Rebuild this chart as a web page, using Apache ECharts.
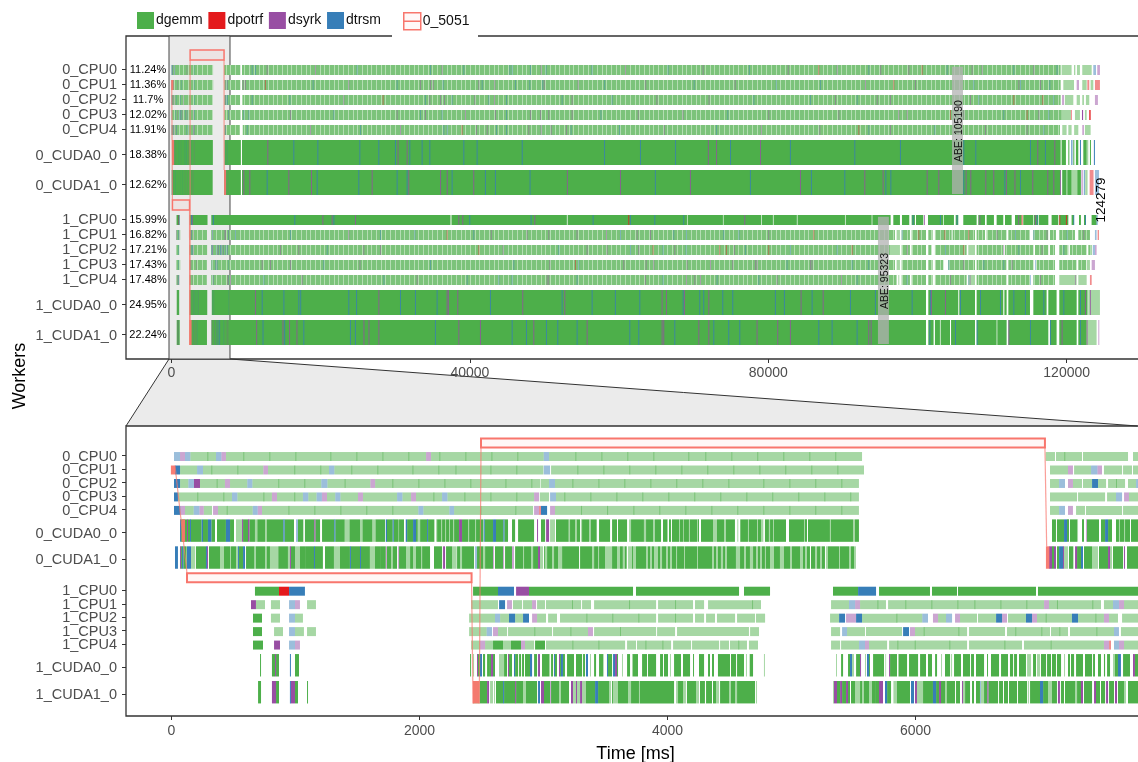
<!DOCTYPE html>
<html><head><meta charset="utf-8"><style>html,body{margin:0;padding:0;background:#fff}#c{width:1138px;height:762px}</style>
<script src="https://cdn.jsdelivr.net/npm/echarts@6/dist/echarts.min.js"></script></head><body><div id="c"></div>
<script>
// kinds: 0 dgemm, 1 dpotrf, 2 dsyrk, 3 dtrsm; +4 = single (pale) task; 8 = packed run of dgemm tasks
const kindNames=['dgemm','dpotrf','dsyrk','dtrsm'];
const rowLabels=['0_CPU0','0_CPU1','0_CPU2','0_CPU3','0_CPU4','0_CUDA0_0','0_CUDA1_0','1_CPU0','1_CPU1','1_CPU2','1_CPU3','1_CPU4','1_CUDA0_0','1_CUDA1_0'];
const rowCenters=[0,3,6,9,12,16.5,22.5,30,33,36,39,42,46.5,52.5];
const rowTicks=[-0.2,2.8,5.8,8.8,11.8,16.9,22.9,29.8,32.8,35.8,38.8,41.8,46.9,52.9];
const rowLabelAt=[-6.5,0.05,3.05,6.05,9.05,12.05,17.15,23.15,30.05,33.05,36.05,39.05,42.05,47.15,53.15];
const rowHeights=[2,2,2,2,2,5,5,2,2,2,2,2,5,5];
const rowPercents=['11.24%','11.36%','11.7%','12.02%','11.91%','18.38%','12.62%','15.99%','16.82%','17.21%','17.43%','17.48%','24.95%','22.24%'];
const overviewTicks=[0,40000,80000,120000];
const detailTicks=[0,2000,4000,6000];

// detail tasks [start ms, end ms, kind]
const det_0_CPU0=[[20,69,7],[69,109,6],[109,152,7],[152,289,4],[289,359,4],[359,402,7],[402,439,6],[439,579,4],[579,789,4],[789,999,4],[999,1281,4],[1281,1491,4],[1491,1701,4],[1701,1910,4],[1910,2053,4],[2053,2093,6],[2093,2160,4],[2160,2370,4],[2370,2580,4],[2580,2789,4],[2789,3002,4],[3002,3045,7],[3045,3257,4],[3257,3467,4],[3467,3676,4],[3676,3886,4],[3886,4168,4],[4168,4305,4],[4305,4515,4],[4515,4724,4],[4724,4934,4],[4934,5144,4],[5144,5353,4],[5353,5569,4],[7050,7125,4],[7133,7200,4],[7200,7343,4],[7351,7714,4],[7754,7795,4]];
const det_0_CPU1=[[28,69,3],[69,206,4],[206,254,7],[254,321,4],[321,531,4],[531,741,4],[741,778,6],[778,990,4],[990,1200,4],[1200,1270,4],[1270,1313,7],[1313,1450,4],[1450,1660,4],[1660,1943,4],[1943,2152,4],[2152,2290,4],[2290,2572,4],[2572,2781,4],[2781,2999,4],[3002,3053,7],[3061,3273,4],[3273,3483,4],[3483,3692,4],[3692,3902,4],[3902,4112,4],[4112,4321,4],[4321,4531,4],[4531,4741,4],[4741,4950,4],[4950,5160,4],[5160,5370,4],[5370,5585,4],[7085,7230,4],[7230,7270,6],[7279,7416,4],[7416,7467,7],[7467,7504,6],[7520,7666,4],[7674,7746,4],[7754,7795,4]];
const det_0_CPU2=[[20,69,3],[69,136,4],[136,181,7],[181,230,2],[230,364,4],[364,431,4],[431,472,6],[472,611,4],[611,652,7],[652,861,4],[861,1071,4],[1071,1208,4],[1208,1257,7],[1257,1396,4],[1396,1604,4],[1604,1642,6],[1642,1781,4],[1781,1991,4],[1991,2201,4],[2201,2410,4],[2410,2693,4],[2693,2902,4],[2902,2975,4],[2980,3045,4],[3045,3093,7],[3093,3233,4],[3233,3443,4],[3443,3652,4],[3652,3862,4],[3862,4071,4],[4071,4281,4],[4281,4491,4],[4491,4773,4],[4773,4983,4],[4983,5192,4],[5192,5402,4],[5402,5544,4],[7085,7158,4],[7158,7206,7],[7230,7270,6],[7270,7343,4],[7351,7424,4],[7424,7472,3],[7472,7537,4],[7553,7617,4],[7617,7690,4],[7714,7779,4],[7779,7795,7]];
const det_0_CPU3=[[20,52,3],[52,208,4],[208,418,4],[418,488,4],[488,531,7],[531,741,4],[741,810,4],[810,851,6],[851,990,4],[990,1060,4],[1060,1103,7],[1103,1170,4],[1170,1213,7],[1213,1254,6],[1254,1321,4],[1321,1362,7],[1362,1504,4],[1504,1544,6],[1544,1819,4],[1819,1862,7],[1862,1932,4],[1932,1972,6],[1972,2112,4],[2112,2182,4],[2182,2225,7],[2225,2362,4],[2362,2572,4],[2572,2781,4],[2781,2924,4],[2924,2964,6],[2970,3045,4],[3053,3101,7],[3101,3168,4],[3168,3378,4],[3378,3588,4],[3588,3797,4],[3797,4007,4],[4007,4216,4],[4216,4426,4],[4426,4636,4],[4636,4845,4],[4845,5055,4],[5055,5265,4],[5265,5474,4],[5474,5544,4],[7085,7303,4],[7311,7529,4],[7545,7617,4],[7617,7666,7],[7682,7722,6],[7722,7795,4]];
const det_0_CPU4=[[20,71,3],[71,109,6],[109,179,4],[179,225,7],[225,260,6],[260,327,4],[335,375,6],[375,445,4],[445,655,4],[655,695,7],[695,730,6],[730,943,4],[943,1152,4],[1152,1362,4],[1362,1571,4],[1571,1781,4],[1781,1991,4],[1991,2031,7],[2031,2241,4],[2241,2279,7],[2279,2491,4],[2491,2773,4],[2773,2916,4],[2924,2964,6],[2964,2980,5],[2980,3029,3],[3053,3093,6],[3093,3303,4],[3303,3513,4],[3513,3725,4],[3725,3934,4],[3934,4144,4],[4144,4354,4],[4354,4563,4],[4563,4773,4],[4773,4983,4],[4983,5192,4],[5192,5402,4],[5402,5544,4],[7085,7158,4],[7158,7206,7],[7230,7270,6],[7295,7367,4],[7375,7666,4],[7674,7795,4]];
const det_0_CUDA0=[[69,77,3],[77,125,0],[125,133,2],[133,149,0],[149,157,3],[157,243,0],[243,254,3],[254,294,0],[294,321,3],[321,351,0],[367,439,0],[439,472,3],[472,504,0],[520,569,4],[569,577,2],[577,617,0],[617,628,2],[628,673,0],[673,692,4],[692,754,0],[754,768,4],[768,902,0],[902,912,3],[912,988,0],[1004,1020,7],[1020,1063,0],[1076,1152,0],[1152,1160,2],[1160,1198,0],[1214,1313,0],[1313,1321,3],[1321,1397,0],[1397,1435,4],[1435,1520,0],[1520,1540,4],[1540,1620,0],[1620,1645,4],[1645,1722,0],[1728,1738,3],[1738,1784,0],[1784,1792,3],[1792,1832,0],[1835,1875,0],[1889,1900,3],[1900,1948,0],[1948,1972,3],[1972,1986,0],[1986,2005,4],[2005,2061,0],[2061,2069,3],[2069,2120,0],[2134,2142,4],[2142,2174,0],[2174,2182,4],[2182,2206,0],[2206,2214,4],[2214,2238,0],[2238,2246,4],[2246,2271,0],[2271,2279,4],[2279,2319,0],[2319,2343,2],[2343,2392,0],[2392,2400,4],[2400,2448,0],[2448,2456,4],[2456,2515,0],[2518,2526,3],[2526,2593,0],[2593,2617,3],[2617,2677,0],[2677,2685,3],[2685,2714,0],[2746,2771,0],[2795,2924,0],[2948,2956,2],[2980,3013,0],[3021,3045,2],[3053,3093,4],[3101,3203,0],[3203,3214,4],[3214,3255,0],[3255,3268,4],[3268,3295,0],[3303,3311,4],[3311,3367,0],[3367,3381,4],[3381,3429,0],[3448,3537,0],[3553,3593,0],[3601,3674,0],[3690,3706,4],[3706,3810,0],[3810,3827,4],[3827,3883,0],[3883,3899,4],[3899,3948,0],[3964,3996,0],[3996,4004,4],[4012,4028,0],[4036,4093,0],[4093,4101,4],[4101,4128,0],[4128,4133,4],[4133,4173,0],[4173,4181,4],[4181,4238,0],[4238,4246,4],[4246,4254,0],[4270,4367,0],[4367,4399,4],[4399,4456,0],[4456,4472,4],[4472,4544,0],[4563,4571,4],[4587,4649,0],[4649,4657,4],[4657,4722,0],[4722,4730,4],[4730,4754,0],[4754,4773,4],[4786,4818,0],[4818,4827,4],[4827,4851,0],[4851,4859,4],[4859,4956,0],[4980,5101,0],[5101,5109,4],[5109,5125,0],[5133,5310,0],[5310,5318,4],[5318,5496,0],[5496,5512,4],[5512,5544,0],[7101,7133,0],[7141,7198,0],[7198,7222,3],[7222,7238,0],[7246,7303,0],[7303,7311,4],[7343,7359,0],[7375,7383,6],[7383,7480,0],[7496,7529,0],[7529,7553,3],[7553,7585,0],[7617,7641,0],[7641,7649,4],[7649,7682,0],[7682,7690,4],[7690,7730,0],[7738,7795,0]];
const det_0_CUDA1=[[28,52,3],[69,77,2],[77,85,0],[85,95,3],[95,122,0],[125,157,3],[157,190,4],[197,278,0],[278,286,3],[286,294,2],[302,391,0],[391,423,4],[423,472,0],[472,480,4],[480,520,0],[520,536,4],[536,544,3],[544,577,0],[577,593,3],[601,668,0],[668,681,4],[681,754,0],[754,767,4],[767,794,0],[794,861,4],[861,939,0],[939,955,4],[955,963,2],[963,996,0],[996,1036,4],[1036,1084,0],[1084,1149,0],[1149,1157,3],[1157,1221,0],[1238,1310,0],[1310,1359,4],[1359,1439,0],[1439,1447,3],[1447,1520,0],[1520,1528,3],[1528,1600,0],[1600,1641,4],[1641,1682,0],[1682,1728,0],[1728,1738,6],[1738,1771,0],[1771,1784,4],[1784,1819,0],[1827,1835,6],[1835,1892,0],[1892,1924,4],[1924,1948,0],[1948,1972,4],[1972,2013,0],[2013,2021,4],[2021,2085,0],[2117,2182,0],[2190,2206,2],[2214,2263,0],[2263,2300,4],[2303,2327,0],[2327,2343,4],[2343,2440,0],[2448,2464,7],[2464,2513,0],[2513,2529,4],[2529,2593,0],[2593,2601,6],[2609,2674,0],[2674,2682,6],[2690,2746,0],[2746,2762,6],[2771,2835,0],[2835,2843,4],[2843,2900,0],[2900,2916,4],[2916,2956,0],[2956,2972,2],[2972,2996,4],[3005,3013,0],[3013,3029,4],[3029,3069,0],[3069,3085,4],[3085,3117,0],[3117,3150,4],[3150,3287,0],[3295,3391,0],[3391,3408,4],[3408,3440,0],[3440,3448,4],[3448,3496,0],[3496,3553,4],[3553,3593,0],[3593,3617,4],[3617,3640,0],[3640,3655,4],[3655,3671,0],[3682,3714,4],[3714,3722,0],[3722,3746,4],[3746,3827,0],[3827,3843,4],[3843,3859,0],[3859,3875,4],[3875,3891,0],[3891,3923,4],[3923,3940,0],[3940,3956,4],[3956,3988,0],[3988,4004,4],[4004,4020,0],[4020,4036,4],[4036,4069,0],[4069,4077,4],[4077,4133,0],[4133,4141,4],[4141,4238,0],[4238,4246,4],[4246,4359,0],[4359,4375,4],[4375,4391,0],[4391,4407,4],[4407,4431,0],[4431,4448,4],[4448,4464,0],[4464,4480,4],[4480,4552,0],[4552,4585,4],[4585,4617,0],[4617,4633,4],[4633,4665,0],[4665,4690,4],[4690,4714,0],[4714,4730,4],[4730,4746,0],[4746,4762,4],[4762,4786,0],[4786,4794,4],[4794,4827,0],[4827,4859,4],[4859,4907,0],[4907,4939,4],[4939,4988,0],[4988,5004,4],[5004,5069,0],[5069,5093,4],[5093,5109,0],[5109,5125,4],[5125,5149,0],[5157,5190,0],[5190,5206,4],[5206,5230,0],[5230,5246,4],[5246,5270,0],[5278,5294,4],[5294,5383,0],[5383,5391,4],[5391,5464,0],[5464,5480,4],[5480,5504,0],[5504,5520,4],[7077,7101,2],[7101,7117,0],[7117,7133,2],[7141,7158,0],[7158,7190,3],[7190,7198,2],[7198,7230,4],[7238,7273,0],[7287,7303,2],[7303,7335,0],[7335,7351,3],[7359,7424,0],[7424,7472,4],[7480,7553,0],[7553,7569,2],[7569,7585,4],[7593,7674,0],[7682,7690,2],[7706,7795,0]];
const det_1_CPU0=[[673,867,0],[867,948,1],[948,1076,3],[2432,2633,0],[2633,2762,3],[2779,2883,2],[2883,3722,0],[3746,4577,0],[4617,4827,0],[5335,5537,0],[5537,5682,3],[5706,6117,0],[6133,6335,0],[6343,6972,0],[6988,7795,0]];
const det_1_CPU1=[[641,681,2],[681,754,4],[802,875,4],[948,996,7],[996,1036,6],[1093,1165,4],[2416,2633,4],[2642,2690,3],[2706,2746,6],[2754,2827,4],[2835,2908,4],[2908,2940,6],[2948,3012,4],[3020,3230,4],[3230,3303,4],[3311,3383,4],[3408,3690,4],[3690,3908,4],[3924,4061,4],[4061,4206,4],[4222,4295,4],[4327,4682,4],[4682,4754,4],[5319,5464,4],[5464,5513,7],[5513,5553,6],[5553,5693,4],[5693,5762,4],[5779,5918,4],[5918,6128,4],[6128,6338,4],[6338,6475,4],[6475,6685,4],[6685,6894,4],[6894,7037,4],[7037,7077,6],[7077,7141,4],[7141,7426,4],[7426,7496,4],[7520,7593,4],[7593,7641,7],[7641,7682,6],[7682,7795,4]];
const det_1_CPU2=[[657,730,0],[802,875,4],[948,996,7],[996,1060,4],[2400,2609,4],[2609,2650,7],[2650,2722,4],[2722,2771,3],[2771,2835,4],[2835,2883,3],[2908,2948,6],[2948,3020,4],[3037,3109,4],[3133,3346,4],[3346,3555,4],[3555,3765,4],[3765,3908,4],[3924,4061,4],[4061,4206,4],[4222,4295,4],[4311,4383,4],[4399,4545,4],[4561,4706,4],[4714,4787,4],[5311,5384,4],[5384,5432,3],[5440,5521,6],[5521,5569,3],[5569,5846,4],[5846,6055,4],[6055,6101,7],[6141,6182,6],[6182,6246,4],[6246,6295,7],[6319,6359,6],[6359,6496,4],[6504,6650,4],[6650,6698,3],[6698,6738,6],[6746,6891,4],[6891,6940,3],[6940,6980,6],[6980,7050,4],[7050,7262,4],[7262,7311,3],[7311,7451,4],[7451,7520,4],[7520,7561,6],[7561,7633,4],[7666,7795,4]];
const det_1_CPU3=[[657,730,0],[827,899,4],[948,996,7],[996,1068,4],[1093,1165,4],[2400,2542,4],[2542,2585,7],[2593,2633,6],[2633,2706,4],[2714,2926,4],[2926,3069,4],[3077,3217,4],[3217,3359,4],[3359,3399,6],[3408,3617,4],[3617,3908,4],[3916,4061,4],[4077,4657,4],[4666,4738,4],[5319,5392,4],[5408,5448,7],[5448,5593,4],[5601,5892,4],[5900,5948,3],[5956,5996,6],[5996,6066,4],[6066,6346,4],[6346,6416,4],[6432,6722,4],[6738,6805,4],[6805,7015,4],[7015,7085,4],[7093,7160,4],[7160,7230,4],[7246,7459,4],[7459,7601,4],[7601,7641,7],[7657,7795,4]];
const det_1_CPU4=[[657,738,0],[827,875,2],[948,996,7],[996,1036,6],[2416,2488,4],[2488,2529,6],[2529,2593,4],[2593,2674,0],[2674,2738,4],[2738,2819,0],[2819,2851,6],[2851,2924,4],[2932,3012,0],[3020,3233,4],[3233,3443,4],[3443,3658,4],[3674,3746,4],[3754,3822,4],[3822,3959,4],[3959,4029,4],[4045,4190,4],[4198,4416,4],[4424,4496,4],[4504,4571,4],[4571,4641,4],[4657,4730,4],[5319,5392,4],[5400,5545,4],[5545,5593,7],[5593,5625,6],[5625,5771,4],[5787,5854,4],[5854,5994,4],[5994,6273,4],[6273,6416,4],[6432,6717,4],[6717,6859,4],[6875,7090,4],[7090,7520,4],[7520,7561,6],[7561,7577,5],[7601,7641,7],[7641,7682,6],[7682,7795,4]];
const det_1_CUDA0=[[714,722,0],[810,835,0],[835,843,2],[843,867,0],[955,963,3],[996,1028,0],[2408,2416,0],[2432,2440,4],[2464,2472,2],[2472,2488,0],[2488,2504,3],[2512,2529,0],[2545,2561,0],[2561,2577,0],[2577,2593,2],[2593,2609,0],[2641,2682,4],[2682,2706,0],[2714,2722,2],[2722,2746,0],[2762,2771,3],[2771,2795,0],[2803,2819,0],[2827,2843,0],[2851,2891,0],[2891,2908,3],[2924,2948,0],[2956,2972,2],[2988,3045,0],[3045,3053,4],[3061,3077,0],[3085,3093,3],[3093,3109,0],[3125,3133,2],[3133,3141,0],[3141,3157,3],[3157,3173,0],[3190,3246,0],[3262,3311,0],[3319,3335,0],[3343,3359,3],[3375,3383,4],[3408,3424,0],[3448,3483,0],[3512,3520,3],[3520,3553,0],[3561,3577,3],[3577,3593,2],[3593,3601,0],[3633,3641,4],[3674,3698,0],[3714,3722,4],[3722,3762,0],[3795,3835,0],[3843,3908,0],[3940,3964,0],[3972,4004,0],[4020,4028,4],[4053,4109,0],[4125,4182,0],[4206,4214,0],[4254,4295,0],[4327,4343,0],[4359,4375,0],[4407,4504,0],[4512,4553,0],[4561,4617,0],[4633,4641,4],[4663,4690,0],[4778,4786,4],[5359,5367,4],[5400,5416,0],[5456,5472,0],[5472,5488,3],[5488,5504,4],[5521,5553,0],[5553,5561,2],[5593,5601,4],[5609,5625,3],[5625,5633,0],[5658,5746,0],[5757,5763,4],[5787,5795,2],[5795,5851,0],[5859,5867,4],[5867,5932,0],[5948,6021,0],[6037,6085,0],[6101,6133,0],[6158,6174,0],[6206,6214,4],[6238,6279,0],[6287,6295,4],[6311,6367,0],[6383,6440,0],[6448,6472,0],[6488,6553,0],[6577,6585,0],[6609,6674,0],[6690,6746,0],[6762,6787,0],[6795,6819,0],[6835,6891,0],[6900,6932,4],[6948,6972,0],[6980,7004,4],[7012,7053,0],[7061,7093,0],[7101,7133,0],[7141,7174,0],[7198,7206,4],[7230,7246,0],[7254,7279,0],[7295,7351,0],[7367,7424,0],[7432,7448,0],[7472,7496,0],[7520,7529,0],[7545,7569,0],[7593,7609,4],[7609,7633,0],[7633,7657,3],[7674,7730,0],[7754,7770,2],[7770,7795,0]];
const det_1_CUDA1=[[698,722,0],[810,843,2],[843,867,0],[955,963,3],[963,996,2],[996,1020,0],[1093,1101,0],[2432,2488,4],[2488,2545,0],[2545,2561,2],[2569,2593,4],[2601,2609,4],[2617,2674,0],[2674,2682,3],[2682,2771,0],[2771,2779,2],[2779,2835,0],[2835,2859,4],[2859,2948,0],[2956,2972,3],[2980,3004,2],[3004,3053,0],[3053,3061,6],[3061,3125,0],[3125,3141,4],[3141,3206,0],[3222,3238,2],[3238,3262,4],[3262,3270,2],[3270,3295,4],[3295,3311,2],[3311,3343,4],[3343,3416,0],[3416,3440,3],[3440,3529,0],[3529,3545,4],[3553,3561,0],[3561,3601,4],[3601,3682,0],[3682,3706,4],[3706,3770,0],[3770,3778,4],[3778,4053,0],[4069,4085,4],[4085,4125,0],[4125,4149,4],[4157,4230,0],[4230,4254,4],[4262,4302,0],[4311,4359,0],[4367,4391,0],[4391,4416,4],[4424,4496,0],[4496,4512,4],[4512,4545,0],[4545,4561,4],[4561,4706,0],[4714,4722,4],[5335,5343,4],[5343,5367,2],[5367,5392,0],[5392,5408,2],[5408,5440,0],[5440,5456,2],[5456,5472,0],[5480,5513,0],[5513,5553,4],[5553,5569,0],[5569,5585,4],[5585,5625,0],[5625,5649,4],[5649,5674,0],[5674,5706,0],[5706,5738,2],[5754,5771,3],[5771,5803,0],[5822,5851,4],[5851,5956,0],[5964,5988,3],[5996,6012,2],[6012,6061,4],[6061,6141,0],[6141,6166,3],[6166,6190,0],[6190,6206,2],[6206,6238,0],[6238,6252,4],[6252,6319,0],[6327,6359,0],[6375,6383,2],[6383,6400,4],[6400,6440,0],[6456,6472,0],[6488,6520,0],[6520,6528,7],[6528,6553,4],[6553,6580,0],[6580,6588,2],[6588,6666,0],[6674,6706,0],[6714,6746,0],[6754,6819,0],[6827,6900,0],[6908,6916,4],[6924,7004,0],[7004,7029,3],[7029,7069,0],[7069,7101,4],[7101,7141,0],[7149,7165,2],[7173,7198,0],[7206,7287,0],[7287,7303,4],[7303,7335,0],[7335,7351,2],[7359,7424,0],[7440,7456,2],[7456,7488,0],[7496,7529,0],[7537,7553,2],[7561,7601,0],[7609,7625,2],[7633,7682,0],[7682,7698,4],[7714,7795,0]];
const detailRows=[det_0_CPU0,det_0_CPU1,det_0_CPU2,det_0_CPU3,det_0_CPU4,det_0_CUDA0,det_0_CUDA1,det_1_CPU0,det_1_CPU1,det_1_CPU2,det_1_CPU3,det_1_CPU4,det_1_CUDA0,det_1_CUDA1];

// overview runs [start ms, end ms, kind]
const run_0_CPU0=[[20,5570,8],[7050,9250,8],[9450,119190,8],[119320,120660,4],[120980,121160,4],[121380,121780,4],[122090,123350,4],[123570,123930,7],[124100,124460,6]];
const run_0_CPU1=[[0,5585,8],[7085,9250,8],[9450,119190,8],[119550,120980,4],[121340,121650,6],[122090,122680,4],[122770,123030,5],[123210,123570,4],[123790,124460,5]];
const run_0_CPU2=[[20,5544,8],[7085,9200,8],[9500,119190,8],[119380,119650,6],[119770,120890,4],[121340,121780,4],[122090,122320,4],[122580,123030,4],[123790,124190,6]];
const run_0_CPU3=[[20,5544,8],[7085,9300,8],[9450,119320,8],[119320,120570,4],[120570,120700,5],[121110,121780,4],[122050,122200,2],[122450,122680,4],[123030,123210,1]];
const run_0_CPU4=[[20,5544,8],[7085,9150,8],[9550,119100,8],[119410,119990,4],[120220,120660,4],[121000,121560,4],[122090,122320,6],[122450,123210,4]];
const run_0_CUDA0=[[69,5544,0],[7100,9300,0],[9450,119190,0],[119320,119900,0],[120220,120360,0],[120630,120750,3],[120890,121000,0],[121240,121560,0],[121780,121900,3],[122230,122680,0],[122680,122900,4],[123120,123250,0],[123650,123780,3]];
const run_0_CUDA1=[[28,5520,0],[7060,9300,0],[9450,119190,0],[119400,119990,0],[120080,120660,0],[120660,121420,4],[121420,121910,0],[122480,122800,4],[123080,123600,5],[123790,124330,7]];
const run_1_CPU0=[[673,1076,0],[2432,4827,0],[5335,37400,0],[37530,53000,0],[53100,69100,0],[69180,73920,0],[74000,79050,0],[79130,80620,0],[80710,83830,0],[83920,90280,0],[90370,93860,0],[93950,96400,0],[96760,97650,0],[97920,98900,0],[99220,99660,0],[99800,100780,0],[101410,103460,0],[103550,104890,0],[105120,105470,0],[106140,107930,0],[108150,109050,0],[109270,110250,0],[110610,111500,0],[111730,112620,0],[113070,113960,0],[114180,115530,0],[115620,116200,0],[116290,117540,0],[117980,118880,0],[119010,120220,0],[120660,120980,0],[121650,121910,0],[122320,122590,0],[123340,124010,0]];
const run_1_CPU1=[[641,1165,8],[2416,4754,8],[5319,96980,8],[97200,97650,4],[97880,98990,8],[99220,101140,8],[101450,102030,8],[102340,104580,8],[104710,107710,8],[107930,109050,8],[109270,111950,8],[112180,115080,8],[115530,117540,8],[117760,118560,8],[119010,121110,8],[121560,123120,8],[123790,124010,7],[124150,124330,5]];
const run_1_CPU2=[[657,1060,8],[2400,4787,8],[5311,96310,8],[96310,97650,4],[97880,98990,8],[99220,101140,8],[101450,101900,8],[102340,106590,8],[106810,107710,4],[107930,111500,8],[111730,115530,8],[115750,117540,8],[117760,118430,8],[119010,120220,8],[120440,122680,8],[122900,123350,8],[123500,123790,7],[123790,124010,6]];
const run_1_CPU3=[[657,1165,8],[2400,4738,8],[5319,96980,8],[97200,97650,4],[97880,101140,8],[101450,102030,8],[102340,103460,8],[104130,107710,8],[107930,111950,8],[112180,115530,8],[115970,118430,8],[119010,121340,8],[121560,122590,8],[122680,123120,4],[123350,123790,6]];
const run_1_CPU4=[[657,1036,8],[2416,4730,8],[5319,97200,8],[97430,97560,4],[97880,98990,8],[99220,101140,8],[101450,102030,8],[102340,106590,8],[106810,107710,4],[107930,111950,8],[112180,115080,8],[115530,118430,8],[119010,121340,4],[121560,122680,4],[123120,123350,5]];
const run_1_CUDA0=[[700,1030,0],[2410,4790,0],[5400,101140,0],[101450,105470,0],[105600,107710,0],[107930,111500,0],[111650,111950,0],[112180,115080,0],[115530,117310,0],[117540,118650,0],[119010,121340,0],[121560,122800,0],[122900,124460,4]];
const run_1_CUDA1=[[698,1100,0],[2430,4754,0],[5343,101140,0],[101450,102160,0],[102340,103010,0],[103100,104360,0],[104500,107710,0],[107930,110610,0],[110700,111950,0],[112180,117540,0],[117760,118650,0],[119010,121340,0],[121560,122680,0],[122680,124010,4],[124240,124330,6]];
const overviewRuns=[run_0_CPU0,run_0_CPU1,run_0_CPU2,run_0_CPU3,run_0_CPU4,run_0_CUDA0,run_0_CUDA1,run_1_CPU0,run_1_CPU1,run_1_CPU2,run_1_CPU3,run_1_CPU4,run_1_CUDA0,run_1_CUDA1];

// overview isolated tasks [time ms, kind]
const mark_0_CPU0=[[10750,3],[11190,3],[12760,2],[19240,2],[24820,3],[34650,3],[36210,2],[39120,3],[45290,3],[45600,3],[48050,3],[49480,2],[50150,3],[56300,3],[60800,2],[66500,3],[71200,2],[77400,3],[82600,2],[86700,1],[89160,2],[93410,3],[95000,2],[98770,2],[100560,1],[103910,3],[107260,2],[108600,2],[112850,3],[115530,2],[118650,3]];
const mark_0_CPU1=[[9540,2],[9850,2],[12530,1],[18920,3],[23700,2],[30180,3],[33300,2],[34650,2],[35010,2],[36350,3],[41130,2],[41580,3],[43270,2],[46040,3],[47960,3],[49700,3],[49900,2],[54440,2],[58000,3],[63500,2],[70000,3],[75500,2],[81000,3],[86930,3],[92960,2],[96760,1],[99660,2],[107480,3],[113520,2],[113740,3],[116420,2],[117670,3]];
const mark_0_CPU2=[[7390,3],[10750,3],[15800,3],[23030,2],[28300,1],[33970,3],[34560,2],[35990,2],[36530,2],[37550,3],[40590,2],[42470,3],[43230,2],[44840,3],[52300,3],[53640,2],[59000,3],[65000,2],[72000,2],[78000,3],[85590,3],[88940,2],[91850,3],[94530,2],[96310,2],[107040,2],[108150,3],[112850,1],[116730,1],[118200,3]];
const mark_0_CPU3=[[9630,3],[10300,3],[15880,2],[21700,3],[30180,2],[33310,3],[33980,2],[36210,3],[39340,2],[43360,2],[44840,3],[48050,2],[49400,2],[50510,2],[53640,2],[57500,3],[62500,2],[68500,2],[74500,3],[80000,2],[89390,2],[97430,2],[98550,2],[104360,1],[106140,2],[111500,3],[114630,1],[116200,2],[117540,3]];
const mark_0_CPU4=[[10080,3],[18570,2],[25270,3],[30630,2],[36440,3],[36900,3],[38890,1],[40820,2],[42250,2],[43500,3],[44840,3],[47830,2],[49480,2],[50830,2],[52880,2],[53500,3],[60000,3],[66000,2],[73000,3],[79000,2],[86840,2],[92070,1],[93410,3],[96310,2],[102260,3],[109050,2],[114630,2],[116870,3]];
const mark_0_CUDA0=[[12845,2],[16330,3],[19550,3],[25180,3],[27720,3],[29960,3],[30300,2],[31520,2],[31880,3],[33530,3],[34560,3],[39120,3],[40900,3],[46950,3],[57980,3],[62800,3],[67500,3],[71900,2],[73000,2],[74870,3],[78890,2],[82900,3],[91530,3],[97650,3],[106140,3],[107750,3],[115080,3],[116060,2],[117090,3],[118340,2]];
const mark_0_CUDA1=[[9630,2],[10430,2],[12760,3],[15660,2],[18700,2],[19460,3],[25040,3],[26830,2],[30180,3],[31520,3],[31740,2],[36000,2],[36890,2],[37550,3],[40450,2],[42020,3],[43360,3],[48000,3],[53000,2],[60120,2],[64800,3],[69500,2],[77540,3],[84250,2],[85720,3],[90190,3],[92870,2],[95330,2],[95690,3],[96360,3],[101230,2],[102790,2],[106140,3],[106460,2],[107080,2],[109090,2],[110160,2],[111640,3],[111860,2],[113000,2],[113740,3],[115390,2],[117400,2],[118210,2],[119100,2],[122000,2],[122300,3]];
const mark_1_CPU0=[[16460,3],[20220,2],[21470,2],[21700,3],[24600,2],[38450,2],[38980,2],[39920,3],[48140,3],[48630,2],[56450,3],[61230,1],[61450,3],[64720,3],[68600,3],[76780,2],[99350,3],[100870,2],[103010,3],[105250,3],[108290,2],[113500,2],[113960,1],[115750,2],[116000,3],[119010,1],[119900,1],[120890,3],[122450,3],[124010,3]];
const mark_1_CPU1=[[7170,2],[8510,3],[15880,3],[23700,2],[27950,3],[32550,3],[36880,1],[40450,3],[42800,2],[47600,2],[50510,2],[54300,2],[58240,2],[60120,3],[62350,2],[64140,2],[67260,3],[68960,3],[73960,3],[76000,3],[79990,2],[86040,1],[97880,3],[100110,1],[103600,1],[106810,1],[110610,2],[113070,3],[115530,3],[117310,2],[120000,3],[122230,2]];
const mark_1_CPU2=[[6500,3],[7390,3],[14540,2],[17000,2],[20810,3],[25710,2],[27950,2],[41130,1],[44390,2],[51850,3],[55650,2],[58330,2],[61460,3],[62570,2],[64490,1],[65830,3],[67400,2],[68920,3],[73430,1],[74320,1],[75400,2],[76870,3],[79990,1],[82900,3],[89170,3],[91180,1],[98550,2],[103690,3],[106140,1],[111500,2],[113520,3],[116640,2],[119550,3]];
const mark_1_CPU3=[[6050,3],[12090,2],[13200,2],[15880,2],[20350,3],[25200,2],[34650,3],[45820,3],[50640,2],[54090,1],[54530,3],[60560,2],[63560,2],[64590,2],[69050,2],[72180,2],[75170,2],[78210,2],[78430,2],[82450,3],[85800,2],[93400,3],[85590,2],[91180,3],[104130,3],[106140,2],[108820,3],[111500,3],[112620,2],[115750,3]];
const mark_1_CPU4=[[7840,2],[12320,3],[17450,2],[28410,3],[32860,2],[39570,3],[43810,3],[45590,3],[50290,2],[50500,2],[54310,3],[63470,2],[65830,3],[68960,2],[70080,2],[70840,2],[73070,3],[78660,3],[81120,2],[89740,2],[91840,3],[98550,3],[104360,2],[106810,3],[107000,2],[115080,3],[116420,2],[121110,2]];
const mark_1_CUDA0=[[11200,2],[12090,3],[15000,3],[17000,3],[17250,3],[23700,3],[24740,3],[27730,2],[30630,3],[32640,3],[35540,3],[36880,2],[37050,2],[38310,2],[42690,3],[47020,2],[52300,3],[52650,2],[56320,3],[59440,3],[62710,3],[65700,2],[66280,2],[68520,3],[68700,2],[70750,3],[71280,3],[71960,2],[73830,3],[75170,3],[80890,3],[82100,3],[84330,2],[85810,3],[87290,2],[90950,3],[94300,3],[99220,3],[101670,3],[101800,2],[103690,2],[105700,3],[108380,3],[111060,3],[112850,3],[114410,3],[116870,3],[119550,3],[121780,3],[122450,2],[123120,2]];
const mark_1_CUDA1=[[6320,3],[11350,2],[12200,3],[14870,2],[15100,3],[15760,2],[16750,2],[17670,3],[23920,3],[24590,3],[25730,2],[26400,2],[27730,2],[35320,3],[38450,2],[41350,2],[45600,3],[47520,3],[48500,2],[50200,3],[51710,3],[54310,3],[55650,2],[61370,3],[62570,3],[65700,2],[65920,2],[67400,3],[70620,2],[71960,2],[72630,3],[74630,3],[76110,3],[78430,2],[81200,2],[82900,2],[86700,3],[88490,3],[91840,3],[93400,2],[93720,2],[101590,3],[105030,3],[107930,3],[112180,2],[115080,3],[117760,3],[119320,2],[121780,3],[122670,2]];
const overviewMarks=[mark_0_CPU0,mark_0_CPU1,mark_0_CPU2,mark_0_CPU3,mark_0_CPU4,mark_0_CUDA0,mark_0_CUDA1,mark_1_CPU0,mark_1_CPU1,mark_1_CPU2,mark_1_CPU3,mark_1_CPU4,mark_1_CUDA0,mark_1_CUDA1];

// annotations
const zoomRange=[-335,7840];
const abeStart=[104625,94700];
const abeEnd=[106100,96170];
const abeTop=[-0.66,29.33];
const abeBottom=[24.8,54.8];
const abeLabels=['ABE: 105190','ABE: 95323'];
const abeLabelY=[12.2,42.2];
const makespan=124279;
const makespanY=26;
// red dependency: rectangles [x0,x1,y0,y1], links [x0,y0,x1,y1], tasks [x0,x1,row]
const depRects=[[2496,7044,-4,-2],[125,2420,26,28]];
const depLinks=[[2496,-2,2482,55],[7044,-2,7058,20],[125,26,28,2],[2420,28,2432,55]];
const depTasks=[[-5,28,1],[82,109,5],[2430,2482,13],[7052,7080,6]];

const COLORS=['#4daf4a','#e41a1c','#984ea3','#377eb8'];
const RED='#F8766D';
const FONT='"Liberation Sans",Arial,Helvetica,sans-serif';
const isCPU=i=>rowHeights[i]===2;

// style-only texture for packed CPU runs in the overview
const tex=document.createElement('canvas');tex.width=47;tex.height=4;
(function(){const c=tex.getContext('2d');c.fillStyle='#7cc37a';c.fillRect(0,0,47,4);c.fillStyle='#b4deb2';
 [0,5,9,14,19,24,28,33,38,42].forEach(x=>c.fillRect(x,0,1,4));})();

function detailData(kind){
  const out=[];
  detailRows.forEach((tasks,i)=>tasks.forEach((t,j)=>{
    if((t[2]&3)!==kind) return;
    const next=tasks[j+1];
    const touching=t[2]===4&&isCPU(i)&&next&&next[2]===4&&next[0]-t[1]<=1;
    out.push([t[0],t[1]+(touching?8:0),rowCenters[i],rowHeights[i],t[2]>=4?1:0]);
  }));
  return out;
}
// modes: 0 solid, 1 pale, 2 packed texture, 3 faint isolated task (CPU), 4 isolated task (CUDA), 5 thin detail task
function overviewData(kind){
  const out=[];
  overviewRuns.forEach((runs,i)=>runs.forEach(r=>{
    if((r[2]&3)!==kind) return;
    out.push([r[0],r[1],rowCenters[i],rowHeights[i],r[2]===8?2:(r[2]>=4?1:0)]);
  }));
  overviewMarks.forEach((ms,i)=>ms.forEach(m=>{
    if(m[1]!==kind) return;
    out.push([m[0],m[0]+130,rowCenters[i],rowHeights[i],isCPU(i)&&i!==7?3:4]);
  }));
  if(kind>0) detailRows.forEach((tasks,i)=>tasks.forEach(t=>{
    if((t[2]&3)!==kind) return;
    out.push([t[0],t[1],rowCenters[i],rowHeights[i],5]);
  }));
  return out;
}
function taskSeries(kind,grid,data,overview){
  const base=COLORS[kind];
  return {type:'custom',name:kindNames[kind],xAxisIndex:grid,yAxisIndex:grid,z:2,silent:true,clip:true,data,
    itemStyle:{color:base},encode:{x:[0,1],y:2},animation:false,
    renderItem(params,api){
      const y=api.value(2),h=api.value(3),mode=api.value(4);
      const p0=api.coord([api.value(0),y-h/2]),p1=api.coord([api.value(1),y+h/2]);
      let w=p1[0]-p0[0]; if(overview&&mode!==5&&w<1) w=1;
      const cs=params.coordSys;
      const shape=echarts.graphic.clipRectByRect({x:p0[0],y:p0[1],width:w,height:p1[1]-p0[1]},{x:cs.x,y:cs.y,width:cs.width,height:cs.height});
      if(!shape) return;
      let style;
      if(mode===2) style={fill:{image:tex,repeat:'repeat'}};
      else style={fill:base,opacity:[1,0.5,1,0.45,0.75,0.8][mode]};
      return {type:'rect',shape,style};
    }};
}
function bandSeries(){
  return {type:'custom',name:'zoomBand',xAxisIndex:0,yAxisIndex:0,z:1,silent:true,data:[[zoomRange[0],zoomRange[1]]],encode:{x:[0,1]},animation:false,
    renderItem(params,api){
      const a=api.coord([api.value(0),-6.8]),b=api.coord([api.value(1),57.8]);
      return {type:'rect',shape:{x:a[0],y:a[1],width:b[0]-a[0],height:b[1]-a[1]},style:{fill:'#ebebeb',stroke:'#444',lineWidth:1}};
    }};
}
function abeSeries(){
  return {type:'custom',name:'ABE',xAxisIndex:0,yAxisIndex:0,z:3,silent:true,data:abeStart.map((s,i)=>[s,abeEnd[i],abeTop[i],abeBottom[i],abeLabelY[i]]),encode:{x:[0,1],y:[2,3]},animation:false,
    renderItem(params,api){
      const a=api.coord([api.value(0),api.value(2)]),b=api.coord([api.value(1),api.value(3)]);
      const ly=api.coord([0,api.value(4)])[1];
      return {type:'group',children:[
        {type:'rect',shape:{x:a[0],y:a[1],width:b[0]-a[0],height:b[1]-a[1]},style:{fill:'rgba(178,178,178,0.75)'}},
        {type:'text',x:(a[0]+b[0])/2+1.5,y:ly,rotation:Math.PI/2,style:{text:abeLabels[params.dataIndex],fill:'#111',font:'10.5px '+FONT,align:'center',verticalAlign:'middle'}}
      ]};
    }};
}
function depSeries(grid,lw){
  const data=[];
  depRects.forEach((r,i)=>data.push([0,i]));
  depLinks.forEach((r,i)=>data.push([1,i]));
  depTasks.forEach((r,i)=>data.push([2,i]));
  return {type:'custom',name:'0_5051',xAxisIndex:grid,yAxisIndex:grid,z:4,silent:true,data,encode:{x:-1,y:-1},animation:false,clip:true,itemStyle:{color:RED},
    renderItem(params,api){
      const t=api.value(0),i=api.value(1);
      if(t===0){const r=depRects[i];const a=api.coord([r[0],r[2]]),b=api.coord([r[1],r[3]]);
        return {type:'rect',shape:{x:a[0],y:a[1],width:b[0]-a[0],height:b[1]-a[1]},style:{fill:'rgba(248,118,109,0.06)',stroke:RED,lineWidth:lw}};}
      if(t===1){const r=depLinks[i];const a=api.coord([r[0],r[1]]),b=api.coord([r[2],r[3]]);
        return {type:'line',shape:{x1:a[0],y1:a[1],x2:b[0],y2:b[1]},style:{stroke:RED,lineWidth:1.2,opacity:0.7}};}
      const r=depTasks[i];const c=rowCenters[r[2]],h=rowHeights[r[2]];
      const a=api.coord([r[0],c-h/2]),b=api.coord([r[1],c+h/2]);
      return {type:'rect',shape:{x:a[0],y:a[1],width:Math.max(2,b[0]-a[0]),height:b[1]-a[1]},style:{fill:RED,opacity:0.95}};
    }};
}
function textSeries(){
  const data=rowPercents.map((p,i)=>[-3150,rowTicks[i]]);
  return {type:'custom',name:'percent',xAxisIndex:0,yAxisIndex:0,z:5,silent:true,data,encode:{x:0,y:1},animation:false,
    renderItem(params,api){
      const p=api.coord([api.value(0),api.value(1)]);
      return {type:'text',x:p[0],y:p[1]+0.5,style:{text:rowPercents[params.dataIndex],fill:'#000',font:'11px '+FONT,align:'center',verticalAlign:'middle'}};
    }};
}
function makespanSeries(){
  return {type:'custom',name:'makespan',xAxisIndex:0,yAxisIndex:0,z:5,silent:true,data:[[makespan,makespanY]],encode:{x:0,y:1},animation:false,
    renderItem(params,api){
      const p=api.coord([api.value(0),api.value(1)]);
      return {type:'text',x:p[0]+2.5,y:p[1],rotation:Math.PI/2,style:{text:String(makespan),fill:'#000',font:'13.5px '+FONT,align:'center',verticalAlign:'middle'}};
    }};
}
function xAxis(grid,min,max,ticks,margin,extra){
  return Object.assign({type:'value',gridIndex:grid,min,max,position:'bottom',splitLine:{show:false},axisLine:{show:false,onZero:false},
    axisTick:{show:true,length:4,lineStyle:{color:'#333',width:1},customValues:ticks},
    axisLabel:{color:'#4d4d4d',fontSize:14,fontFamily:FONT,margin,customValues:ticks,showMinLabel:true,showMaxLabel:true,hideOverlap:false,formatter:v=>String(v)}},extra||{});
}
function yAxis(grid){
  return {type:'value',gridIndex:grid,inverse:true,min:-6.8,max:57.8,splitLine:{show:false},axisLine:{show:false,onZero:false},
    axisTick:{show:true,length:4,lineStyle:{color:'#333',width:1},customValues:rowTicks},
    axisLabel:{color:'#4d4d4d',fontSize:14.5,fontFamily:FONT,margin:9,customValues:rowLabelAt,showMinLabel:true,showMaxLabel:true,hideOverlap:false,formatter:v=>{const i=rowLabelAt.indexOf(+v);return i>0?rowLabels[i-1]:'';}}};
}
const series=[bandSeries()];
[0,1,2,3].forEach(k=>series.push(taskSeries(k,0,overviewData(k),true)));
series.push(abeSeries(),depSeries(0,1.5),textSeries(),makespanSeries());
[0,1,2,3].forEach(k=>series.push(taskSeries(k,1,detailData(k),false)));
series.push(depSeries(1,2));

const chart=echarts.init(document.getElementById('c'),null,{renderer:'canvas',width:1138,height:762});
const gridBase={left:126,width:1019,show:true,backgroundColor:'transparent',borderColor:'#333',borderWidth:1.3,containLabel:false,outerBoundsMode:'none'};
chart.setOption({
  animation:false,textStyle:{fontFamily:FONT},
  legend:[
    {data:kindNames.map(n=>({name:n,icon:'rect'})),left:137,top:12,itemWidth:17,itemHeight:17,itemGap:5.7,padding:0,selectedMode:false,
     textStyle:{fontSize:14,color:'#111',fontFamily:FONT,padding:[3,0,0,-3]}},
    {data:[{name:'0_5051',icon:'path://M0 0H17V17H0Z M0 8.5H17',itemStyle:{color:'rgba(248,118,109,0.05)',borderColor:RED,borderWidth:1.5}}],left:403,top:12,itemWidth:17,itemHeight:17,padding:0,selectedMode:false,
     textStyle:{fontSize:14,color:'#111',fontFamily:FONT,padding:[3,0,0,-3]}}
  ],
  color:COLORS,
  grid:[Object.assign({top:36,height:323},gridBase),Object.assign({top:426,height:290},gridBase)],
  xAxis:[xAxis(0,-6100,130500,overviewTicks,7),xAxis(1,-367,7851,detailTicks,8,{name:'Time [ms]',nameLocation:'middle',nameGap:29,nameTextStyle:{color:'#000',fontSize:18,fontFamily:FONT}})],
  yAxis:[yAxis(0),yAxis(1)],
  series
});
// zoom connector between the two panels, anchored on the axes' own scales
const tl=chart.convertToPixel({xAxisIndex:0,yAxisIndex:0},[zoomRange[0],57.8]);
const tr=chart.convertToPixel({xAxisIndex:0,yAxisIndex:0},[zoomRange[1],57.8]);
const bl=chart.convertToPixel({xAxisIndex:1,yAxisIndex:1},[-367,-6.8]);
const br=chart.convertToPixel({xAxisIndex:1,yAxisIndex:1},[7790,-6.8]);
chart.setOption({graphic:[
  {type:'polygon',z:-1,silent:true,shape:{points:[tl,tr,br,bl]},style:{fill:'#ebebeb'}},
  {type:'line',z:0,silent:true,shape:{x1:tl[0],y1:tl[1],x2:bl[0],y2:bl[1]},style:{stroke:'#333',lineWidth:1}},
  {type:'line',z:0,silent:true,shape:{x1:tr[0],y1:tr[1],x2:br[0],y2:br[1]},style:{stroke:'#333',lineWidth:1}},
  {type:'rect',z:10,silent:true,shape:{x:392,y:33,width:86,height:5},style:{fill:'#fff'}},
  {type:'text',z:10,silent:true,x:20,y:376,rotation:Math.PI/2,style:{text:'Workers',fill:'#000',font:'18px '+FONT,align:'center',verticalAlign:'middle'}}
]});
</script></body></html>
